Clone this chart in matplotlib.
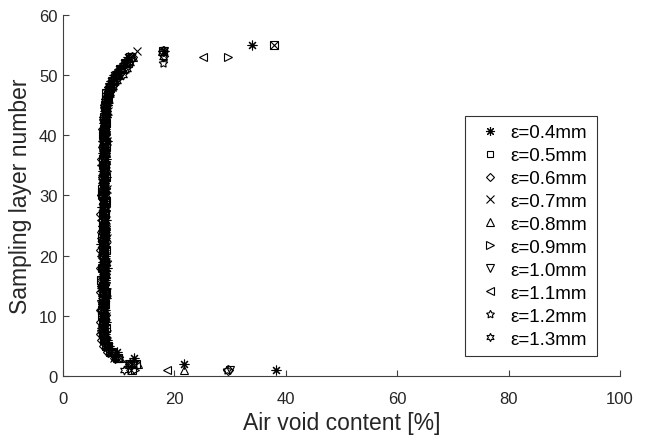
import matplotlib.pyplot as plt
from matplotlib.lines import Line2D

plt.rcParams['font.family'] = ['Liberation Sans', 'DejaVu Sans']

labels = ["ε=0.4mm", "ε=0.5mm", "ε=0.6mm", "ε=0.7mm", "ε=0.8mm",
          "ε=0.9mm", "ε=1.0mm", "ε=1.1mm", "ε=1.2mm", "ε=1.3mm"]

# air void content per sampling layer (layer 1 upwards)
void_04 = [38.2, 21.7, 12.8, 9.6, 8.3, 7.9, 7.6, 7.4, 7.8, 7.2,
           7.5, 7.1, 7.7, 7.3, 7.0, 7.6, 7.4, 7.9, 7.2, 7.5,
           7.3, 6.9, 7.6, 7.4, 7.1, 7.8, 7.3, 7.0, 7.5, 7.2,
           7.6, 7.3, 7.8, 7.1, 7.4, 7.7, 7.2, 7.5, 7.9, 7.3,
           7.6, 7.4, 7.8, 7.5, 7.9, 7.7, 8.1, 8.3, 8.6, 9.2,
           10.1, 11.0, 11.7, 18.1, 34.0]
void_05 = [12.4, 13.1, 9.8, 8.7, 8.0, 7.6, 7.3, 7.7, 7.1, 7.4,
           7.0, 7.5, 7.2, 7.8, 7.3, 6.9, 7.4, 7.1, 7.6, 7.3,
           7.7, 7.2, 7.0, 7.5, 7.3, 7.1, 7.6, 7.4, 7.8, 7.2,
           7.0, 7.4, 7.7, 7.3, 7.5, 7.1, 7.6, 7.8, 7.4, 7.2,
           7.5, 7.8, 7.3, 7.7, 7.6, 8.0, 7.8, 8.4, 8.9, 9.6,
           10.4, 11.6, 12.0, 17.9, 37.8]
void_06 = [29.7, 12.1, 9.3, 8.1, 7.4, 7.0, 6.8, 7.2, 6.9, 7.3,
           6.8, 7.1, 7.4, 6.9, 7.2, 7.0, 7.5, 6.8, 7.3, 7.1,
           6.9, 7.4, 7.2, 7.0, 7.6, 7.1, 6.9, 7.3, 7.5, 7.0,
           7.2, 7.4, 7.1, 7.6, 7.3, 7.0, 7.5, 7.2, 7.7, 7.4,
           7.1, 7.6, 7.3, 7.8, 7.5, 7.7, 8.0, 8.2, 8.7, 9.4,
           10.3, 11.2, 12.3, 18.0]
void_07 = [12.2, 11.5, 9.1, 8.4, 7.7, 7.3, 7.9, 7.5, 7.2, 7.8,
           7.4, 7.6, 7.1, 7.9, 7.5, 7.3, 7.7, 7.2, 7.8, 7.4,
           7.6, 7.3, 7.9, 7.5, 7.2, 7.7, 7.4, 7.8, 7.3, 7.6,
           7.9, 7.5, 7.2, 7.7, 7.4, 7.8, 7.6, 7.3, 7.9, 7.5,
           7.8, 7.4, 7.7, 8.0, 7.8, 8.2, 8.4, 8.7, 9.0, 9.7,
           10.2, 11.1, 12.3, 13.3, 37.9]
void_08 = [21.8, 13.4, 10.3, 8.9, 8.2, 7.6, 7.2, 7.5, 7.0, 7.4,
           7.1, 7.6, 7.3, 7.0, 7.5, 7.2, 7.7, 7.1, 7.4, 7.6,
           7.2, 7.5, 7.0, 7.3, 7.7, 7.4, 7.1, 7.6, 7.3, 7.5,
           7.0, 7.4, 7.7, 7.2, 7.5, 7.3, 7.8, 7.4, 7.1, 7.6,
           7.3, 7.7, 7.5, 7.9, 7.6, 8.1, 8.3, 8.5, 9.1, 9.8,
           10.5, 11.3, 12.5, 17.8]
void_09 = [12.9, 12.0, 9.6, 8.5, 7.8, 7.4, 7.1, 7.6, 7.3, 7.0,
           7.5, 7.2, 7.8, 7.4, 7.1, 7.6, 7.3, 7.0, 7.7, 7.4,
           7.2, 7.6, 7.3, 7.8, 7.1, 7.5, 7.2, 7.7, 7.4, 7.0,
           7.5, 7.3, 7.6, 7.9, 7.2, 7.5, 7.3, 7.7, 7.5, 7.8,
           7.4, 7.6, 7.9, 7.7, 8.0, 7.8, 8.2, 8.6, 9.3, 10.0,
           11.0, 11.9, 29.6]
void_10 = [29.9, 11.8, 9.2, 8.2, 7.5, 7.1, 6.9, 7.3, 7.6, 7.1,
           7.3, 6.9, 7.5, 7.2, 7.7, 7.0, 7.4, 7.6, 7.1, 7.3,
           7.6, 7.0, 7.4, 7.8, 7.2, 7.5, 7.7, 7.1, 7.4, 7.6,
           7.3, 7.1, 7.5, 7.2, 7.8, 7.4, 7.1, 7.6, 7.3, 7.7,
           7.5, 7.2, 7.6, 7.4, 7.8, 8.0, 7.9, 8.3, 8.8, 9.5,
           10.3, 11.1, 12.1, 18.2]
void_11 = [18.7, 12.3, 9.9, 8.6, 7.9, 7.5, 7.2, 6.9, 7.4, 7.1,
           6.8, 7.3, 7.0, 7.5, 6.9, 7.2, 7.4, 7.0, 7.3, 6.8,
           7.1, 7.4, 6.9, 7.2, 7.0, 6.8, 7.3, 7.1, 7.5, 6.9,
           7.2, 7.0, 7.4, 7.1, 6.9, 7.3, 7.5, 7.2, 7.0, 7.4,
           7.2, 7.5, 7.3, 7.6, 7.4, 7.7, 7.9, 8.2, 8.8, 9.4,
           10.4, 11.3, 25.1]
void_12 = [29.5, 12.7, 10.0, 8.8, 8.1, 7.7, 7.4, 7.1, 7.5, 7.8,
           7.2, 7.4, 7.7, 7.0, 7.5, 7.3, 7.6, 7.2, 7.9, 7.4,
           7.1, 7.7, 7.4, 7.2, 7.6, 7.3, 7.5, 7.8, 7.1, 7.4,
           7.7, 7.2, 7.4, 7.5, 7.8, 7.3, 7.6, 7.1, 7.5, 7.8,
           7.6, 7.4, 7.8, 7.5, 7.7, 8.0, 8.4, 8.9, 9.5, 10.2,
           11.3, 17.9, 18.1]
void_13 = [11.0, 11.9, 9.4, 8.3, 7.6, 7.2, 7.0, 7.4, 7.1, 7.6,
           7.3, 7.0, 7.5, 7.2, 6.9, 7.4, 7.1, 7.6, 7.3, 7.0,
           7.5, 7.2, 7.7, 7.0, 7.3, 7.6, 7.2, 7.4, 7.1, 7.7,
           7.4, 7.6, 7.0, 7.3, 7.6, 7.4, 7.2, 7.5, 7.8, 7.3,
           7.6, 7.3, 7.7, 7.5, 7.8, 8.1, 8.5, 9.0, 9.7, 10.8,
           11.5, 12.1, 18.0]

series = [void_04, void_05, void_06, void_07, void_08,
          void_09, void_10, void_11, void_12, void_13]
markers = [(8, 2, 0), 's', 'D', 'x', '^', '>', 'v', '<', (5, 1, 0), (6, 1, 0)]
sizes = [7, 5.5, 5, 6, 6, 6, 6, 6, 6.5, 6.5]

fig = plt.figure(figsize=(6.5, 4.39), dpi=100)
ax = fig.add_axes([0.097, 0.141, 0.857, 0.823])

handles = []
for vals, m, ms, lab in zip(series, markers, sizes, labels):
    layers = list(range(1, len(vals) + 1))
    ax.plot(vals, layers, linestyle='none', marker=m, markersize=ms,
            markerfacecolor='none', markeredgecolor='black',
            markeredgewidth=0.8)
    handles.append(Line2D([], [], linestyle='none', marker=m, markersize=ms - 0.5,
                          markerfacecolor='none', markeredgecolor='black',
                          markeredgewidth=0.8, label=lab))

ax.set_xlim(0, 100)
ax.set_ylim(0, 60)
ax.set_xticks([0, 20, 40, 60, 80, 100])
ax.set_yticks([0, 10, 20, 30, 40, 50, 60])
ax.spines['top'].set_visible(False)
ax.spines['right'].set_visible(False)
for s in ['left', 'bottom']:
    ax.spines[s].set_color('#404040')
    ax.spines[s].set_linewidth(0.8)
ax.tick_params(direction='in', length=4, width=0.8, colors='#404040',
               labelcolor='#262626', labelsize=12)
ax.tick_params(axis='x', pad=10.5)
ax.tick_params(axis='y', pad=4)
ax.set_xlabel("Air void content [%]", fontsize=16.5, color='#262626', labelpad=4)
ax.set_ylabel("Sampling layer number", fontsize=16.5, color='#262626', labelpad=5)

leg = ax.legend(handles=handles, loc='lower left',
                bbox_to_anchor=(0.7217, 0.0554, 0.2370, 0.6717), mode='expand',
                borderaxespad=0, fancybox=False, edgecolor='black',
                fontsize=13.5, labelspacing=0.31, handletextpad=0.15,
                borderpad=0.45, handlelength=1.8)
leg.get_frame().set_linewidth(0.8)

fig.savefig('out.png', dpi=100)
